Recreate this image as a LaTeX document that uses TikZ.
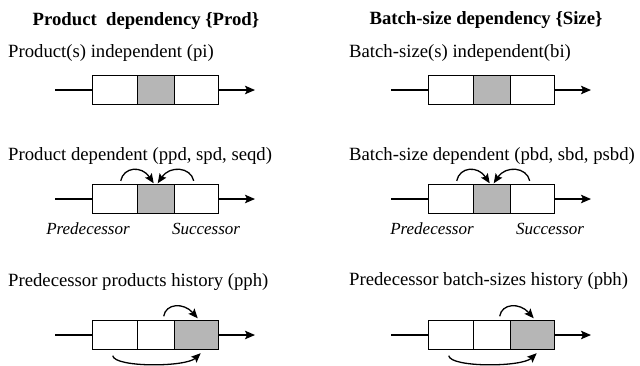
\documentclass[tikz,border=0pt]{standalone}
\usepackage{fontspec}
\setmainfont{Liberation Serif}
\usetikzlibrary{arrows.meta,calc}
\definecolor{cellgray}{RGB}{182,182,182}

% one strip of three cells: #1 name, #2 left x, #3 centre y, #4 fill of middle cell, #5 fill of right cell
\newcommand\cellstrip[5]{%
  \node[cell, minimum width=45pt] (#1a) at (#2,#3) {};
  \node[cell, minimum width=37pt, fill=#4] (#1b) at (#2+45,#3) {};
  \node[cell, minimum width=44pt, fill=#5] (#1c) at (#2+82,#3) {};
  \coordinate (#1in) at (#2-37,#3);
  \coordinate (#1out) at (#2+163,#3);
  \draw[lead] (#1in) -- (#1a);
  \draw[flow] (#1c) -- (#1out);
}

\begin{document}
\begin{tikzpicture}[x=1pt,y=1pt,
  cell/.style={draw, line width=1.4pt, minimum height=29pt, inner sep=0pt, anchor=west},
  lead/.style={line width=1.4pt},
  flow/.style={line width=1.4pt, -{Stealth[length=10pt,width=8.5pt,inset=2pt]}},
  hop/.style={line width=1.3pt, -{Stealth[length=9.5pt,width=8pt,inset=1.8pt]}},
  lbl/.style={font=\fontsize{18.7}{21}\selectfont, anchor=base west, inner sep=0pt},
  head/.style={font=\bfseries\fontsize{18.7}{21}\selectfont, anchor=base, inner sep=0pt},
  side/.style={font=\itshape\fontsize{17}{19}\selectfont, anchor=base, inner sep=0pt}]
\useasboundingbox (0,0) rectangle (640,-365);

% column headings
\node[head] (hprod) at (146,-25) {Product\ \ dependency \{Prod\}};
\node[head] (hsize) at (486,-24.5) {Batch-size dependency \{Size\}};

% ---- product column ----
\node[lbl] (tpi) at (8,-57.5) {Product(s) independent (pi)};
\cellstrip{pi}{92}{-90}{cellgray}{white}

\node[lbl] (tpd) at (8,-160.7) {Product dependent (ppd, spd, seqd)};
\cellstrip{pd}{92}{-199}{cellgray}{white}
\draw[hop] ([shift={(5.5,3)}]pda.north) .. controls +(3,14) and +(-12,18) .. ([shift={(-2.5,0.5)}]pdb.north);
\draw[hop] ([shift={(-3,3)}]pdc.north) .. controls +(-3,14) and +(12,18) .. ([shift={(1.5,0.5)}]pdb.north);
\node[side] (ppre) at (88,-234) {Predecessor};
\node[side] (psuc) at (206,-234) {Successor};

\node[lbl] (tph) at (8,-286.7) {Predecessor products history (pph)};
\cellstrip{ph}{92}{-335}{white}{cellgray}
\draw[hop] ([shift={(7.5,3.5)}]phb.north) .. controls +(2,13) and +(-14,16) .. ([shift={(1,1.5)}]phc.north);
\draw[hop] ([shift={(-2.5,-5.5)}]pha.south) .. controls +(2,-12) and +(-15,-14) .. ([shift={(4,-3)}]phc.south);

% ---- batch-size column ----
\node[lbl] (tbi) at (349,-57.5) {Batch-size(s) independent(bi)};
\cellstrip{bi}{428}{-90}{cellgray}{white}

\node[lbl] (tbd) at (349,-160.7) {Batch-size dependent (pbd, sbd, psbd)};
\cellstrip{bd}{428}{-199}{cellgray}{white}
\draw[hop] ([shift={(5.5,3)}]bda.north) .. controls +(3,14) and +(-12,18) .. ([shift={(-2.5,0.5)}]bdb.north);
\draw[hop] ([shift={(-3,3)}]bdc.north) .. controls +(-3,14) and +(12,18) .. ([shift={(1.5,0.5)}]bdb.north);
\node[side] (bpre) at (432,-234) {Predecessor};
\node[side] (bsuc) at (550,-234) {Successor};

\node[lbl] (tbh) at (349,-285) {Predecessor batch-sizes history (pbh)};
\cellstrip{bh}{428}{-335}{white}{cellgray}
\draw[hop] ([shift={(7.5,3.5)}]bhb.north) .. controls +(2,13) and +(-14,16) .. ([shift={(1,1.5)}]bhc.north);
\draw[hop] ([shift={(-2.5,-5.5)}]bha.south) .. controls +(2,-12) and +(-15,-14) .. ([shift={(4,-3)}]bhc.south);
\end{tikzpicture}
\end{document}
